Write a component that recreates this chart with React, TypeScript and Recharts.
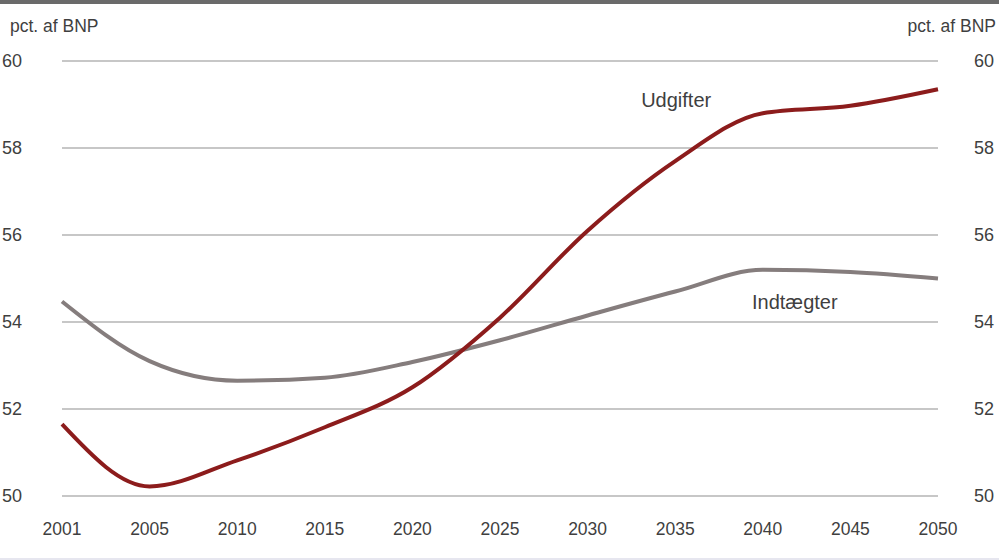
import React from 'react';
import { LineChart, Line, XAxis, YAxis, CartesianGrid, ReferenceDot } from 'recharts';

const years = ['2001', '2005', '2010', '2015', '2020', '2025', '2030', '2035', '2040', '2045', '2050'];
const udgifter = [51.65, 50.22, 50.82, 51.58, 52.5, 54.1, 56.1, 57.7, 58.8, 58.97, 59.35];
const indtaegter = [54.47, 53.1, 52.65, 52.72, 53.08, 53.58, 54.15, 54.7, 55.2, 55.15, 55.0];
const yTicks = [50, 52, 54, 56, 58, 60];
const unitLabel = 'pct. af BNP';
const seriesNames = { udgifter: 'Udgifter', indtaegter: 'Indtægter' };

const data = years.map((y, i) => ({ year: y, udgifter: udgifter[i], indtaegter: indtaegter[i] }));

const FONT = '"Liberation Sans", Arial, sans-serif';
const TXT = '#3f3f3f';

const LeftTick = (props: any) => {
  const { x, y, payload } = props;
  return (
    <text x={x - 52} y={y} dy={6} textAnchor="start" fontFamily={FONT} fontSize={18} fill={TXT}>
      {payload.value}
    </text>
  );
};

const RightTick = (props: any) => {
  const { y, payload } = props;
  return (
    <text x={974} y={y} dy={6} textAnchor="start" fontFamily={FONT} fontSize={18} fill={TXT}>
      {payload.value}
    </text>
  );
};

const XTick = (props: any) => {
  const { x, y, payload } = props;
  return (
    <text x={x} y={y} dy={31} textAnchor="middle" fontFamily={FONT} fontSize={17.5} fill={TXT}>
      {payload.value}
    </text>
  );
};

const SeriesLabel = (text: string, dx: number) => (props: any) => {
  const vb = props.viewBox || {};
  const cx = (vb.x || 0) + (vb.width || 0) / 2;
  const cy = (vb.y || 0) + (vb.height || 0) / 2;
  return (
    <text x={cx + dx} y={cy} dy={7} textAnchor="middle" fontFamily={FONT} fontSize={20} fill={TXT}>
      {text}
    </text>
  );
};

export default function App() {
  return (
    <div style={{ position: 'absolute', left: 0, top: 0, width: 999, height: 560, background: '#fff' }}>
      <div style={{ position: 'absolute', left: 0, top: 0, width: 999, height: 4, background: '#6a6a6a' }} />
      <div style={{ position: 'absolute', left: 0, top: 558, width: 999, height: 2, background: '#e6e6ef' }} />
      <div style={{ position: 'absolute', left: 10, top: 16, fontFamily: FONT, fontSize: 17.5, color: TXT }}>{unitLabel}</div>
      <div style={{ position: 'absolute', right: 3, top: 16, fontFamily: FONT, fontSize: 17.5, color: TXT }}>{unitLabel}</div>
      <LineChart width={999} height={560} data={data} margin={{ top: 61, right: 0, bottom: 0, left: 0 }}>
        <CartesianGrid vertical={false} stroke="#b4b4b4" strokeWidth={1.5} yAxisId="left" />
        <XAxis dataKey="year" axisLine={false} tickLine={false} height={64} tick={<XTick />} interval={0} />
        <YAxis yAxisId="left" domain={[50, 60]} ticks={yTicks} axisLine={false} tickLine={false} width={62} tick={<LeftTick />} />
        <YAxis yAxisId="right" orientation="right" domain={[50, 60]} ticks={yTicks} axisLine={false} tickLine={false} width={61} tick={<RightTick />} />
        <Line yAxisId="right" type="monotone" dataKey="udgifter" stroke="none" strokeWidth={0} dot={false} activeDot={false} isAnimationActive={false} legendType="none" />
        <Line yAxisId="left" type="monotone" dataKey="indtaegter" stroke="#857d7d" strokeWidth={4} dot={false} isAnimationActive={false} />
        <Line yAxisId="left" type="monotone" dataKey="udgifter" stroke="#8c1c1c" strokeWidth={4} dot={false} isAnimationActive={false} />
        <ReferenceDot yAxisId="left" x="2035" y={59.1} r={0} fill="none" stroke="none" label={SeriesLabel(seriesNames.udgifter, 1)} />
        <ReferenceDot yAxisId="left" x="2040" y={54.45} r={0} fill="none" stroke="none" label={SeriesLabel(seriesNames.indtaegter, 32)} />
      </LineChart>
    </div>
  );
}
